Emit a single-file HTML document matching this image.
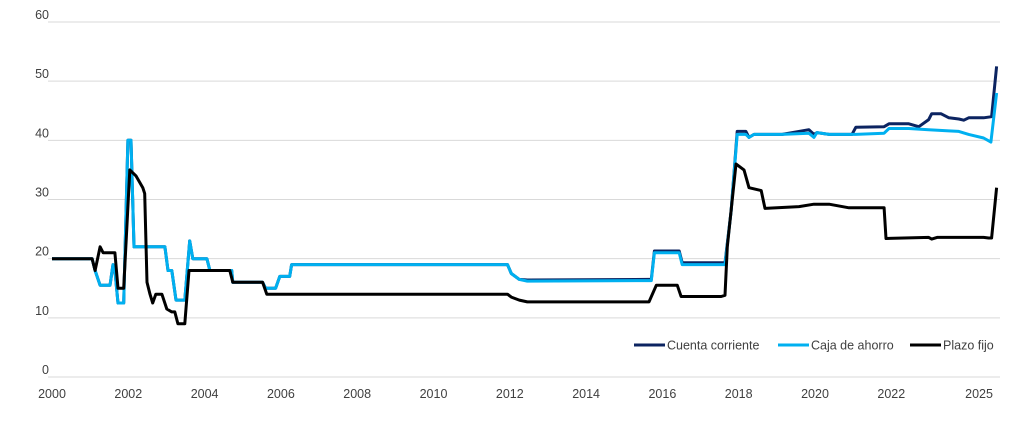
<!DOCTYPE html>
<html><head><meta charset="utf-8"><style>
body{margin:0;background:#fff;}
svg{display:block;font-family:"Liberation Sans",sans-serif;}
</style></head><body>
<svg id="chart" width="1024" height="430" viewBox="0 0 1024 430"></svg>
<script>
const yTicks=[0,10,20,30,40,50,60];
const xTickValues=[2000,2002,2004,2006,2008,2010,2012,2014,2016,2018,2020,2022,2024.3];
const xTickLabels=["2000","2002","2004","2006","2008","2010","2012","2014","2016","2018","2020","2022","2025"];
const cajaDates=[2000,2001.05,2001.13,2001.26,2001.52,2001.60,2001.65,2001.73,2001.88,2001.99,2002.07,2002.15,2002.96,2003.04,2003.14,2003.25,2003.48,2003.61,2003.69,2004.06,2004.14,2004.71,2004.74,2005.52,2005.60,2005.86,2005.97,2006.23,2006.28,2011.94,2012.04,2012.25,2012.46,2012.51,2015.65,2015.71,2015.79,2016.44,2016.52,2017.54,2017.64,2017.80,2017.96,2018.19,2018.27,2018.40,2019.14,2019.84,2019.97,2020.05,2020.37,2021.07,2021.81,2021.94,2022.46,2022.98,2023.51,2023.77,2024.03,2024.42,2024.61,2024.76];
const cajaValues=[20,20,18,15.5,15.5,19,18,12.5,12.5,40,40,22,22,18,18,13,13,23,20,20,18,18,16,16,15,15,17,17,19,19,17.5,16.5,16.2,16.2,16.3,16.3,21,21,19,19,19,28,41,41,40.5,41,41,41.2,40.5,41.3,41,41,41.2,42,42,41.8,41.6,41.5,41,40.4,39.7,48];
const cuentaDates=[2000,2001.05,2001.13,2001.26,2001.52,2001.60,2001.65,2001.73,2001.88,2001.99,2002.07,2002.15,2002.96,2003.04,2003.14,2003.25,2003.48,2003.61,2003.69,2004.06,2004.14,2004.71,2004.74,2005.52,2005.60,2005.86,2005.97,2006.23,2006.28,2011.94,2012.04,2012.25,2012.46,2012.51,2015.65,2015.71,2015.79,2016.44,2016.52,2017.54,2017.64,2017.80,2017.96,2018.19,2018.27,2018.40,2019.14,2019.84,2019.97,2020.05,2020.37,2020.97,2021.07,2021.81,2021.94,2022.46,2022.72,2022.98,2023.06,2023.30,2023.51,2023.77,2023.90,2024.03,2024.42,2024.63,2024.76];
const cuentaValues=[20,20,18,15.5,15.5,19,18,12.5,12.5,40,40,22,22,18,18,13,13,23,20,20,18,18,16,16,15,15,17,17,19,19,17.5,16.5,16.4,16.4,16.5,16.5,21.3,21.3,19.3,19.3,19.3,28,41.5,41.5,40.5,41,41,41.8,41,41.3,41,41,42.2,42.3,42.8,42.8,42.3,43.5,44.5,44.5,43.8,43.6,43.4,43.8,43.8,44,52.5];
const plazoDates=[2000,2001.05,2001.13,2001.26,2001.34,2001.65,2001.73,2001.88,2002.04,2002.20,2002.38,2002.43,2002.49,2002.57,2002.64,2002.72,2002.88,2003.01,2003.14,2003.22,2003.30,2003.48,2003.59,2004.66,2004.74,2005.52,2005.63,2011.94,2012.04,2012.25,2012.46,2012.51,2015.65,2015.84,2016.39,2016.49,2017.54,2017.64,2017.70,2017.93,2018.14,2018.27,2018.59,2018.69,2019.58,2019.97,2020.37,2020.89,2021.81,2021.86,2022.98,2023.06,2023.20,2024.42,2024.55,2024.63,2024.76];
const plazoValues=[20,20,18,22,21,21,15,15,35,34,32,31,16,14,12.5,14,14,11.5,11,11,9,9,18,18,16,16,14,14,13.5,13,12.7,12.7,12.7,15.5,15.5,13.6,13.6,13.8,22,36,35,32,31.5,28.5,28.8,29.2,29.2,28.6,28.6,23.4,23.6,23.3,23.6,23.6,23.5,23.5,32];

const svg=document.getElementById('chart');
const NS='http://www.w3.org/2000/svg';
const x0=52,pxPerYear=38.15,yBase=377,pxPerUnit=5.917;
function xs(v){return x0+(v-2000)*pxPerYear;}
function ys(v){return yBase-v*pxPerUnit;}
function mk(tag,attrs){const e=document.createElementNS(NS,tag);for(const k in attrs)e.setAttribute(k,attrs[k]);svg.appendChild(e);return e;}

yTicks.forEach(t=>{
  const g=mk('line',{x1:48,x2:1000,y1:ys(t),y2:ys(t),stroke:'#d9d9d9','stroke-width':1});
  
  
  const l=mk('text',{x:49,y:ys(t)-3,'text-anchor':'end','font-size':12.5,fill:'#404040'});
  l.textContent=t;
  
  
});
xTickValues.forEach((t,i)=>{
  const l=mk('text',{x:xs(t),y:398,'text-anchor':'middle','font-size':12.5,fill:'#404040'});
  l.textContent=xTickLabels[i];
  
  
});
function series(dates,vals,color,name){
  const pts=dates.map((d,i)=>xs(d).toFixed(1)+','+ys(vals[i]).toFixed(1)).join(' ');
  const p=mk('polyline',{points:pts,fill:'none',stroke:color,'stroke-width':3,'stroke-linejoin':'round'});
  
  
}
series(cuentaDates,cuentaValues,'#0c2461','line-cuenta-corriente');
series(cajaDates,cajaValues,'#00b0f0','line-caja-de-ahorro');
series(plazoDates,plazoValues,'#000000','line-plazo-fijo');

const legend=[['Cuenta corriente','#0c2461',634],['Caja de ahorro','#00b0f0',778],['Plazo fijo','#000000',910]];
legend.forEach(([t,c,x])=>{
  const ln=mk('line',{x1:x,x2:x+31,y1:345,y2:345,stroke:c,'stroke-width':3});
  
  
  const tx=mk('text',{x:x+33,y:349.5,'font-size':12.5,fill:'#404040'});
  tx.textContent=t;
  
  
});
</script>
</body></html>
